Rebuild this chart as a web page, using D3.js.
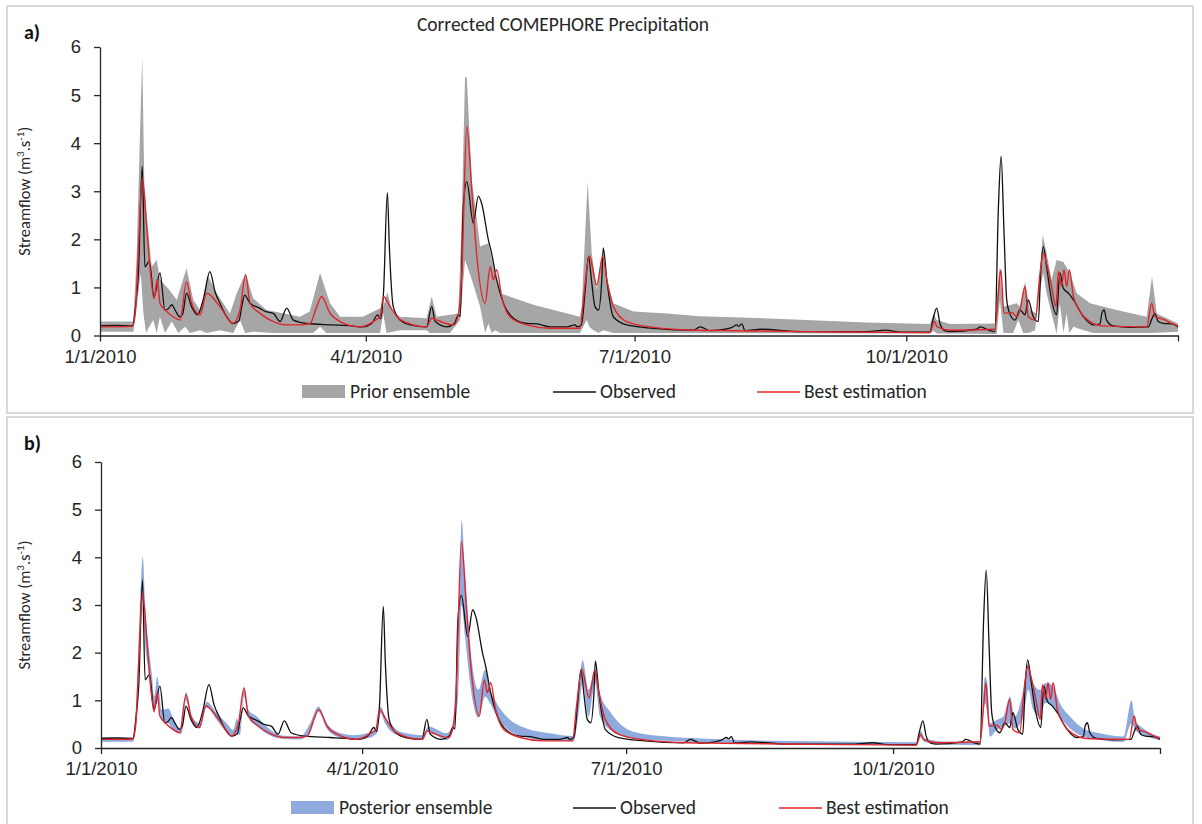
<!DOCTYPE html>
<html>
<head>
<meta charset="utf-8">
<script src="https://cdn.jsdelivr.net/npm/d3@7"></script>
<style>
  body { margin: 0; background: #fff; }
  svg { display: block; font-family: Carlito, Lato, "Open Sans", sans-serif; }
</style>
</head>
<body>
<svg id="chart" width="1202" height="824"></svg>
<script>
// Daily streamflow, 2010 — points are [day of year offset, m3/s]
const observed = [[0,0.2],[5,0.21],[11,0.2],[12,0.6],[13,1.3],[14.3,3.52],[15.2,1.43],[16.7,1.54],[18.3,0.8],[20.3,1.3],[22,0.53],[23,0.55],[24.3,0.64],[25.5,0.52],[27,0.39],[28,0.45],[29.3,0.88],[31,0.6],[33,0.43],[35,0.75],[37.2,1.33],[39,0.9],[40.6,0.67],[43,0.38],[45,0.25],[47,0.3],[48,0.6],[49,0.84],[50.8,0.67],[54,0.57],[56,0.5],[58.7,0.46],[61,0.29],[63.2,0.57],[65.5,0.32],[70,0.25],[79,0.22],[85,0.2],[89,0.18],[92,0.25],[94,0.43],[95,0.35],[96,0.9],[97.3,2.97],[98,1.8],[99.3,0.6],[101.6,0.32],[105,0.22],[110.6,0.18],[112.3,0.6],[113.5,0.29],[117.4,0.18],[120,0.25],[121.3,0.43],[122,0.4],[123,2.68],[124.2,3.2],[126.4,2.34],[128.1,2.9],[129.2,2.75],[131.5,1.99],[132.6,1.71],[134.3,1.16],[136.6,0.67],[140,0.36],[144.5,0.25],[148,0.24],[152.4,0.18],[158,0.18],[160.9,0.22],[161.5,0.18],[163,0.22],[164.2,0.88],[165.4,1.64],[166.5,1.1],[167.6,0.6],[168.8,0.53],[169.9,1.16],[170.4,1.82],[171.6,1.16],[173.8,0.39],[178.3,0.22],[187.4,0.15],[200.9,0.11],[203.2,0.18],[206.6,0.1],[211.7,0.13],[214,0.17],[215.6,0.22],[216.3,0.19],[217.3,0.24],[218.4,0.1],[224,0.13],[237,0.08],[259.6,0.08],[266,0.11],[271,0.07],[281,0.07],[282,0.32],[283.3,0.57],[284.4,0.25],[286,0.1],[288,0.08],[296.8,0.13],[298,0.18],[301.3,0.1],[303,0.08],[304.2,2.68],[305.1,3.73],[306.1,2.13],[307,0.74],[308,0.46],[309.8,0.32],[311.5,0.53],[313.2,0.43],[314.3,0.74],[316,0.39],[317.7,0.29],[318.5,1.3],[319.4,1.85],[320.5,1.43],[322.2,0.74],[323.9,0.43],[325,1.3],[326.2,0.98],[327.9,0.88],[329.6,0.74],[333,0.39],[336.3,0.22],[338.6,0.24],[339.2,0.46],[340,0.53],[340.8,0.32],[343.1,0.2],[348.7,0.17],[355,0.18],[356.1,0.34],[357.2,0.46],[358.3,0.29],[360,0.25],[362.9,0.24],[365,0.18]];

const bestEstimation = [[0,0.18],[11,0.19],[12,0.5],[13,1.8],[14.3,3.27],[15.8,2.27],[16.9,1.43],[18.3,0.77],[19.4,1.16],[20.3,0.67],[22.6,0.5],[24.8,0.39],[27.1,0.32],[29.3,1.12],[31,0.67],[33.9,0.43],[36.1,0.88],[40.6,0.6],[45,0.25],[47.4,0.53],[49.3,1.26],[50.8,0.67],[54.2,0.46],[58.7,0.29],[63.2,0.22],[67.7,0.22],[71.1,0.25],[73.4,0.6],[75,0.81],[77.9,0.46],[81.3,0.29],[88,0.18],[92.5,0.29],[94.8,0.4],[96,0.81],[98.2,0.6],[101.6,0.33],[110.6,0.18],[112.3,0.36],[114,0.32],[119.7,0.22],[121.3,0.43],[122.5,1.3],[124.2,4.34],[125.9,3.0],[127.6,1.64],[130.4,0.67],[132.1,1.43],[133.2,1.16],[134.3,1.37],[136,0.81],[138.8,0.39],[144.5,0.22],[152.4,0.15],[162.5,0.15],[163.9,0.88],[165.7,1.66],[168.2,1.05],[170.2,1.64],[171.6,1.16],[173.8,0.6],[178.3,0.29],[187.4,0.17],[202,0.11],[214.5,0.1],[240,0.08],[281,0.06],[282.5,0.29],[283.5,0.18],[288,0.11],[303,0.13],[304.2,0.88],[305,1.37],[306.1,0.46],[308.7,0.48],[310.4,0.39],[311.5,0.53],[313.2,1.02],[314.3,0.39],[316.6,0.32],[318.3,1.3],[319.4,1.71],[320.5,1.5],[322.2,1.02],[323.7,0.6],[324.5,1.33],[325.6,1.02],[326.4,1.37],[327.3,1.02],[328.2,1.37],[329.6,0.81],[331.8,0.5],[335.2,0.29],[339.7,0.2],[354.4,0.18],[356.1,0.67],[357.2,0.39],[360,0.34],[362.3,0.27],[365,0.2]];

const priorUpper = [[0,0.29],[11.3,0.29],[12.4,1.64],[13.5,4.07],[14.3,5.81],[15,3.2],[15.8,2.5],[17.5,1.43],[19.2,1.57],[20.3,1.16],[23.1,0.98],[26,0.74],[29.3,1.4],[31.6,0.74],[33.9,0.53],[36.5,1.25],[39.5,0.88],[44,0.46],[46.3,0.88],[49.3,1.3],[51.9,0.77],[56.4,0.53],[67.7,0.39],[71,0.5],[74.5,1.3],[77.9,0.67],[81.3,0.39],[89,0.39],[95.9,0.6],[97.3,0.9],[99,0.5],[101.6,0.39],[110.6,0.36],[112.3,0.81],[114,0.39],[121.3,0.46],[122.5,2.5],[123.6,5.39],[124.2,5.36],[125.9,3.24],[128.7,1.85],[131.5,1.92],[133.2,1.43],[135.5,0.88],[146.7,0.64],[162.5,0.39],[163.1,0.6],[165.1,3.2],[166.5,1.71],[168.2,0.95],[169.9,1.71],[171.6,1.16],[173.8,0.67],[180.6,0.5],[191.9,0.46],[203,0.4],[214.5,0.38],[237,0.33],[259.6,0.27],[281,0.24],[282.2,0.46],[283.3,0.32],[287.8,0.24],[303,0.25],[304.5,1.43],[305.9,0.6],[310.4,0.67],[311.5,0.6],[313.2,1.12],[314.9,0.53],[317.1,0.46],[319.2,2.09],[320.5,1.71],[322.2,1.16],[323.9,1.57],[326.2,1.53],[328.4,1.3],[330.7,0.88],[335.2,0.67],[344.2,0.53],[354.4,0.39],[356.2,1.23],[357.8,0.46],[361.2,0.36],[365,0.25]];

const priorLower = [[0,0.08],[11.3,0.08],[12.4,0.6],[13.8,1.3],[14.7,0.46],[15.6,0.05],[16.4,0.15],[18,0.32],[19.2,0.05],[20.3,0.39],[22,0.05],[24.3,0.29],[26.5,0.05],[28.8,0.18],[30.5,0.05],[33.9,0.11],[36.1,0.05],[40.6,0.11],[45.1,0.05],[47.4,0.32],[49.1,0.05],[51.9,0.08],[58.7,0.05],[72.2,0.05],[74.5,0.18],[76.7,0.05],[94.8,0.05],[95.9,0.46],[97,0.05],[101.6,0.11],[110.6,0.11],[111.7,0.05],[118.5,0.05],[121.9,0.32],[123.6,1.57],[125.9,1.16],[128.7,0.6],[130.4,0.05],[131.5,0.25],[132.6,0.05],[133.8,0.11],[135.5,0.05],[162.5,0.05],[164.8,0.32],[165.7,0.18],[167,0.11],[168.8,0.05],[170.4,0.11],[173.8,0.05],[281,0.04],[282.2,0.1],[283.3,0.04],[303.6,0.03],[304.7,0.74],[305.9,0.05],[309.2,0.05],[310.9,0.32],[312.6,0.05],[314.3,0.05],[316.6,0.11],[318,0.88],[319.4,1.3],[320.5,0.88],[322.2,0.46],[323.9,0.03],[325,0.67],[326.2,0.05],[327.3,0.46],[328.2,0.05],[329.6,0.18],[333,0.11],[336.3,0.05],[356,0.05],[365,0.08]];

// posterior band edges share the same day list
const posteriorDays = [0,11,12.3,13.4,14.4,15.2,16.3,17.5,18.3,19.4,20.9,23.2,25.5,27.8,29.3,31.3,34.1,36.4,39.9,43.3,45.6,46.8,47.9,49.3,50.8,53.7,57.1,61.7,68.6,72.1,74.9,77.8,81.3,87,91.6,95.1,96.4,97.9,100.8,103.1,111,112.8,119.1,121.4,123.2,124.3,125.5,127.2,130.1,132.4,134.1,136.4,139.8,146.7,154.8,162.8,164.5,166,168,170.3,172,175.5,183.5,195,206.5,230,260,281,282.5,284,292.6,303,304.7,305.5,306.4,308.7,311,313.3,315,317.9,319.6,321.3,323.6,325.4,326.5,328.2,330.5,334,338.6,344.3,352.4,355.2,356.4,359.3,365];
const posteriorUpper = [0.22,0.22,1.15,2.96,4.01,3.03,2.19,1.57,1.08,1.5,0.8,0.83,0.52,0.41,1.18,0.66,0.52,0.97,0.73,0.52,0.38,0.62,0.45,1.28,0.8,0.66,0.45,0.27,0.24,0.52,0.87,0.52,0.34,0.27,0.31,0.41,0.87,0.66,0.45,0.34,0.27,0.45,0.31,0.52,2.0,4.78,3.66,2.19,1.22,1.64,1.22,0.94,0.66,0.41,0.31,0.25,1.15,1.84,1.22,1.64,1.15,0.76,0.34,0.24,0.2,0.15,0.13,0.12,0.36,0.2,0.13,0.13,1.5,1.36,0.52,0.59,0.66,1.08,0.66,1.22,1.77,1.36,1.22,1.36,1.36,1.29,0.94,0.66,0.41,0.31,0.24,1.0,0.59,0.41,0.24];
const posteriorLower = [0.13,0.13,0.73,2.47,3.1,2.19,1.64,1.0,0.73,1.12,0.59,0.52,0.34,0.3,1.0,0.55,0.41,0.85,0.59,0.34,0.25,0.31,0.27,1.08,0.64,0.46,0.3,0.2,0.18,0.34,0.76,0.41,0.24,0.17,0.2,0.31,0.73,0.52,0.31,0.27,0.17,0.34,0.17,0.38,1.2,3.0,2.33,1.36,0.64,1.08,0.94,0.66,0.41,0.22,0.15,0.14,0.66,1.36,0.66,1.36,0.66,0.38,0.2,0.15,0.12,0.09,0.07,0.06,0.22,0.12,0.07,0.06,0.94,0.73,0.24,0.38,0.45,0.52,0.41,0.66,1.22,0.8,0.66,0.94,0.94,0.87,0.66,0.41,0.24,0.17,0.13,0.52,0.38,0.27,0.17];

const xTickDates = ["2010-01-01", "2010-04-01", "2010-07-01", "2010-10-01", "2011-01-01"];
const xTickLabels = ["1/1/2010", "4/1/2010", "7/1/2010", "10/1/2010", ""];
const yTicks = [0, 1, 2, 3, 4, 5, 6];

const COLORS = { prior: "#a6a6a6", posterior: "#8faadc", observed: "#111111", best: "#e0262b", axis: "#262626", frame: "#d9d9d9", text: "#262626" };

const svg = d3.select("#chart");
const START = Date.UTC(2010, 0, 1);
const toDate = d => new Date(START + d * 86400000);

function drawPanel(p) {
  const g = svg.append("g");

  // panel frame
  g.append("rect").attr("x", p.frame[0]).attr("y", p.frame[1])
    .attr("width", p.frame[2]).attr("height", p.frame[3])
    .attr("fill", "none").attr("stroke", COLORS.frame).attr("stroke-width", 2);

  const x = d3.scaleUtc().domain([new Date(START), new Date(Date.UTC(2011, 0, 1))]).range([p.left, p.right]);
  const y = d3.scaleLinear().domain([0, 6]).range([p.bottom, p.top]);

  // panel letter
  g.append("text").attr("x", 24).attr("y", p.letterY).text(p.letter)
    .attr("font-size", 20).attr("font-weight", "bold").attr("fill", "#111");

  if (p.title) {
    g.append("text").attr("x", 563).attr("y", 31).attr("text-anchor", "middle")
      .attr("font-size", 19.5).attr("fill", COLORS.text).text(p.title);
  }

  // y title
  const yt = g.append("text")
    .attr("transform", `translate(30,${(p.top + p.bottom) / 2}) rotate(-90)`)
    .attr("text-anchor", "middle").attr("font-size", 16.5).attr("fill", COLORS.text);
  yt.append("tspan").text("Streamflow (m");
  yt.append("tspan").text("3").attr("font-size", 11).attr("dy", -6);
  yt.append("tspan").text(".s").attr("dy", 6);
  yt.append("tspan").text("-1").attr("font-size", 11).attr("dy", -6);
  yt.append("tspan").text(")").attr("dy", 6);

  // ensemble band
  g.append("path").attr("d", p.band(x, y)).attr("fill", p.bandColor).attr("stroke", "none");

  const line = d3.line().curve(d3.curveMonotoneX).x(d => x(toDate(d[0]))).y(d => y(d[1]));
  g.append("path").datum(observed).attr("d", line)
    .attr("fill", "none").attr("stroke", COLORS.observed).attr("stroke-width", 1.3).attr("stroke-linejoin", "round");
  g.append("path").datum(bestEstimation).attr("d", line)
    .attr("fill", "none").attr("stroke", COLORS.best).attr("stroke-width", 1.4).attr("stroke-linejoin", "round");

  // axes
  const yAxis = g.append("g").attr("transform", `translate(${p.left},0)`)
    .call(d3.axisLeft(y).tickValues(yTicks).tickFormat(d3.format("d")).tickSize(6).tickSizeOuter(0).tickPadding(13));
  const xAxis = g.append("g").attr("transform", `translate(0,${p.bottom})`)
    .call(d3.axisBottom(x).tickValues(xTickDates.map(s => new Date(s + "T00:00:00Z")))
      .tickFormat((d, i) => xTickLabels[i]).tickSize(6).tickSizeOuter(0).tickPadding(8));
  [yAxis, xAxis].forEach(a => {
    a.selectAll("path, line").attr("stroke", COLORS.axis).attr("stroke-width", 1.3);
    a.selectAll("text").attr("font-size", 18.5).attr("fill", COLORS.text).attr("font-family", null);
  });

  // legend
  const lg = g.append("g").attr("font-size", 19.5).attr("fill", COLORS.text);
  const ly = p.legendY;
  lg.append("rect").attr("x", p.legendX[0]).attr("y", ly - 7).attr("width", p.swatchW).attr("height", 13).attr("fill", p.bandColor);
  lg.append("text").attr("x", p.legendX[0] + p.swatchW + 5).attr("y", ly + 6).text(p.bandName);
  lg.append("line").attr("x1", p.legendX[1]).attr("x2", p.legendX[1] + p.swatchW).attr("y1", ly).attr("y2", ly)
    .attr("stroke", COLORS.observed).attr("stroke-width", 1.3);
  lg.append("text").attr("x", p.legendX[1] + p.swatchW + 4).attr("y", ly + 6).text("Observed");
  lg.append("line").attr("x1", p.legendX[2]).attr("x2", p.legendX[2] + p.swatchW).attr("y1", ly).attr("y2", ly)
    .attr("stroke", COLORS.best).attr("stroke-width", 1.4);
  lg.append("text").attr("x", p.legendX[2] + p.swatchW + 4).attr("y", ly + 6).text("Best estimation");
}

// prior band: upper edge forward, lower edge back
const priorBand = (x, y) => {
  const edge = d3.line().x(d => x(toDate(d[0]))).y(d => y(d[1]));
  return edge(priorUpper.concat(priorLower.slice().reverse())) + "Z";
};
const posteriorBand = (x, y) => d3.area().curve(d3.curveMonotoneX)
  .x(i => x(toDate(posteriorDays[i])))
  .y0(i => y(posteriorLower[i]))
  .y1(i => y(posteriorUpper[i]))(d3.range(posteriorDays.length));

drawPanel({
  frame: [7, 6, 1186, 407], letter: "a)", letterY: 39, title: "Corrected COMEPHORE Precipitation",
  left: 100, right: 1178, top: 47, bottom: 335.5,
  band: priorBand, bandColor: COLORS.prior, bandName: "Prior ensemble",
  legendY: 392, legendX: [302, 553, 757], swatchW: 43
});

drawPanel({
  frame: [7, 417, 1186, 420], letter: "b)", letterY: 450, title: null,
  left: 101, right: 1160, top: 462, bottom: 748,
  band: posteriorBand, bandColor: COLORS.posterior, bandName: "Posterior ensemble",
  legendY: 808, legendX: [291, 573, 779], swatchW: 43
});
</script>
</body>
</html>
